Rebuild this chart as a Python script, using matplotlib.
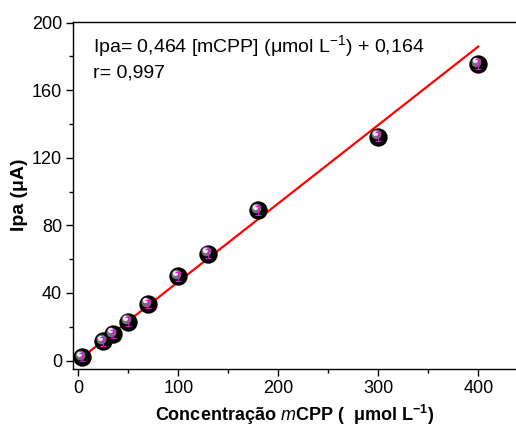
import matplotlib
matplotlib.use("Agg")
import matplotlib.pyplot as plt
import matplotlib.transforms as mtransforms
import numpy as np
from matplotlib.ticker import MultipleLocator

plt.rcParams['font.family'] = ['Liberation Sans', 'DejaVu Sans']
plt.rcParams['mathtext.fontset'] = 'custom'
plt.rcParams['mathtext.rm'] = 'Liberation Sans'
plt.rcParams['mathtext.it'] = 'Liberation Sans:italic'
plt.rcParams['mathtext.bf'] = 'Liberation Sans:bold'

# Calibration data
conc = [4, 25, 35, 50, 70, 100, 130, 180, 300, 400]          # µmol L-1
ipa = [2.0, 11.4, 15.7, 23.1, 33.4, 49.8, 63.3, 88.8, 132.4, 175.4]  # µA
ipa_err = [2.5, 2.5, 2.5, 2.5, 2.5, 2.5, 2.5, 2.5, 2.8, 2.8]
slope = 0.464
intercept = 0.164
r_value = "0,997"

x_ticks = [0, 100, 200, 300, 400]
y_ticks = [0, 40, 80, 120, 160, 200]

W, H = 516, 428
fig = plt.figure(figsize=(W / 100, H / 100), dpi=100)
ax = fig.add_axes([73 / W, 1 - 369 / H, (W - 73) / W + 0.01, (369 - 22) / H])

ax.set_xlim(-5.3, 437.7 + 0.01 * W)
ax.set_ylim(-5, 200.3)
ax.spines['right'].set_visible(False)
for s in ax.spines.values():
    s.set_linewidth(1.0)

ax.set_xticks(x_ticks)
ax.set_yticks(y_ticks)
ax.xaxis.set_minor_locator(MultipleLocator(50))
ax.yaxis.set_minor_locator(MultipleLocator(20))
ax.tick_params(which='major', direction='out', length=5, width=1, labelsize=13,
               top=False, right=False, pad=3)
ax.tick_params(which='minor', direction='out', length=3, width=1, top=False, right=False)

# Linear fit
xf = np.array([conc[0], conc[-1]])
ax.plot(xf, slope * xf + intercept, color='red', lw=1.6, zorder=2)

# Spherical markers: dark body with grey highlight
ax.scatter(conc, ipa, s=175, color='black', zorder=3, linewidths=0)
hl1 = mtransforms.offset_copy(ax.transData, fig=fig, x=-1.5, y=1.7, units='points')
ax.scatter(conc, ipa, s=50, color='#707070', zorder=4, linewidths=0, transform=hl1)
hl2 = mtransforms.offset_copy(ax.transData, fig=fig, x=-2.2, y=2.6, units='points')
ax.scatter(conc, ipa, s=14, color='#ececec', zorder=5, linewidths=0, transform=hl2)

ax.errorbar(conc, ipa, yerr=ipa_err, fmt='none', ecolor='#ff00ff', elinewidth=0.8,
            capsize=2.5, capthick=0.8, zorder=6)

fig.text(93 / W, 1 - 52 / H, 'Ipa= 0,464 [mCPP] (\u03bcmol L$^{-1}$) + 0,164',
         fontsize=14, va='baseline', ha='left')
fig.text(93 / W, 1 - 78 / H, 'r= ' + r_value, fontsize=14, va='baseline', ha='left')

fig.text(20 / W, 1 - 195 / H, 'Ipa (\u03bcA)', fontsize=14, fontweight='bold',
         rotation=90, ha='center', va='center')
fig.text(295 / W, 1 - 421 / H,
         'Concentra\u00e7\u00e3o $\\mathit{m}$CPP (  \u03bcmol L$^{\\mathbf{-1}}$)',
         fontsize=13, fontweight='bold', ha='center', va='baseline')

fig.savefig('out.png', dpi=100)
